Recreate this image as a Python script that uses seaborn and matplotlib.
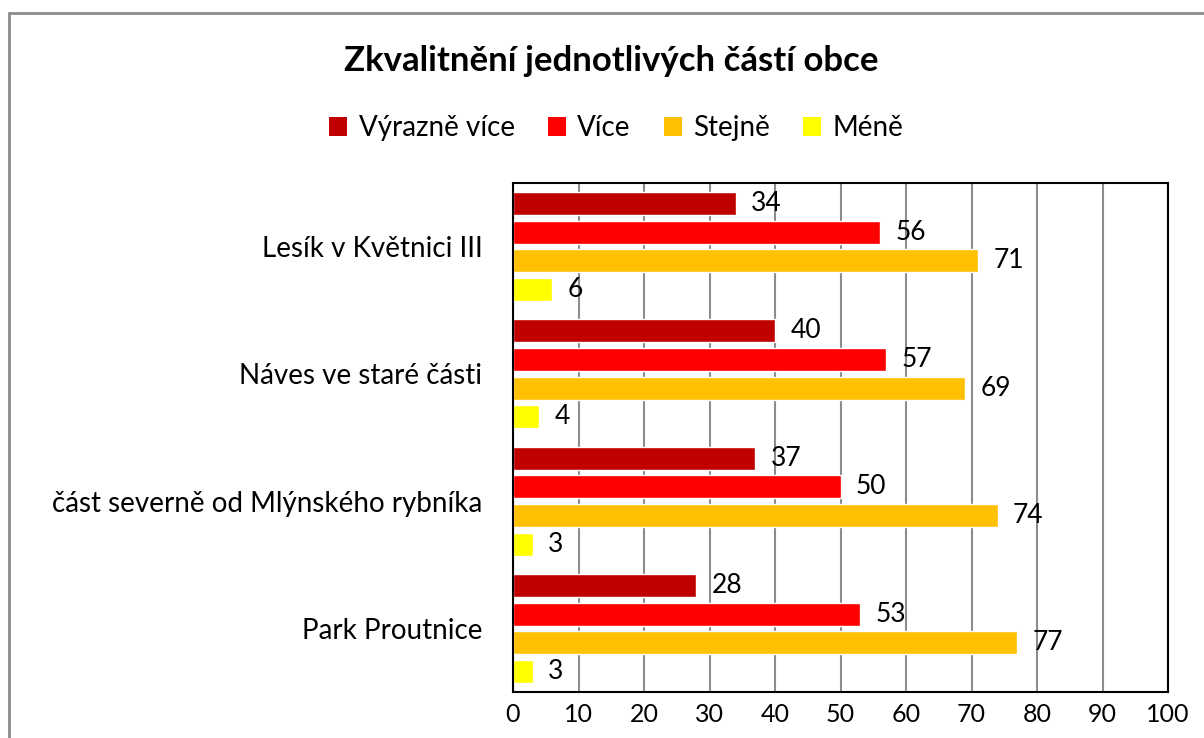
"""Grouped horizontal bar chart: Zkvalitnění jednotlivých částí obce."""

import matplotlib

matplotlib.use("Agg")
import matplotlib.pyplot as plt
import pandas as pd
import seaborn as sns
from matplotlib.patches import Patch, Rectangle

categories = [
    "Lesík v Květnici III",
    "Náves ve staré části",
    "část severně od Mlýnského rybníka",
    "Park Proutnice",
]
series = ["Výrazně více", "Více", "Stejně", "Méně"]
vyrazne_vice = [34, 40, 37, 28]
vice = [56, 57, 50, 53]
stejne = [71, 69, 74, 77]
mene = [6, 4, 3, 3]
colors = ["#C00000", "#FF0000", "#FFC000", "#FFFF00"]
x_ticks = list(range(0, 101, 10))

df = pd.DataFrame(
    {
        "cast": categories * 4,
        "odpoved": [s for s in series for _ in categories],
        "hodnota": vyrazne_vice + vice + stejne + mene,
    }
)

sns.set_theme(style="white")
plt.rcParams["font.family"] = ["Lato", "DejaVu Sans"]

fig = plt.figure(figsize=(12.04, 7.38), dpi=100)
ax = fig.add_axes([513 / 1204, 1 - 692 / 738, 655 / 1204, 509 / 738])

sns.barplot(
    data=df,
    y="cast",
    x="hodnota",
    hue="odpoved",
    order=categories,
    hue_order=series,
    palette=colors,
    orient="h",
    width=0.9,
    gap=0.2,
    saturation=1,
    legend=False,
    ax=ax,
)

for container in ax.containers:
    ax.bar_label(container, padding=11, fontsize=19, color="black")

ax.set_xlim(0, 100)
ax.set_xticks(x_ticks)
ax.xaxis.grid(True, color="#8c8c8c", linewidth=1.5)
ax.set_axisbelow(True)
ax.set_xlabel("")
ax.set_ylabel("")
ax.tick_params(axis="x", length=0, pad=8, labelsize=18, labelcolor="black")
ax.tick_params(axis="y", length=0, pad=22, labelsize=20, labelcolor="black")
for spine in ax.spines.values():
    spine.set_color("black")
    spine.set_linewidth(1.5)

fig.text(0.508, 0.918, "Zkvalitnění jednotlivých částí obce",
         ha="center", va="center", fontsize=25, fontweight="bold", color="black")

handles = [Patch(facecolor=c, edgecolor="none") for c in colors]
fig.legend(handles, series, loc="center", bbox_to_anchor=(0.512, 0.826),
           ncol=4, frameon=False, fontsize=20, handlelength=0.65,
           handleheight=0.65, handletextpad=0.4, columnspacing=1.2,
           labelcolor="black")

# outer chart frame
fig.patches.append(Rectangle((9 / 1204, -0.05), 1.1, 1 - 13 / 738 + 0.05,
                             transform=fig.transFigure, fill=False,
                             edgecolor="#8c8c8c", linewidth=2))

fig.savefig("out.png", dpi=100)
